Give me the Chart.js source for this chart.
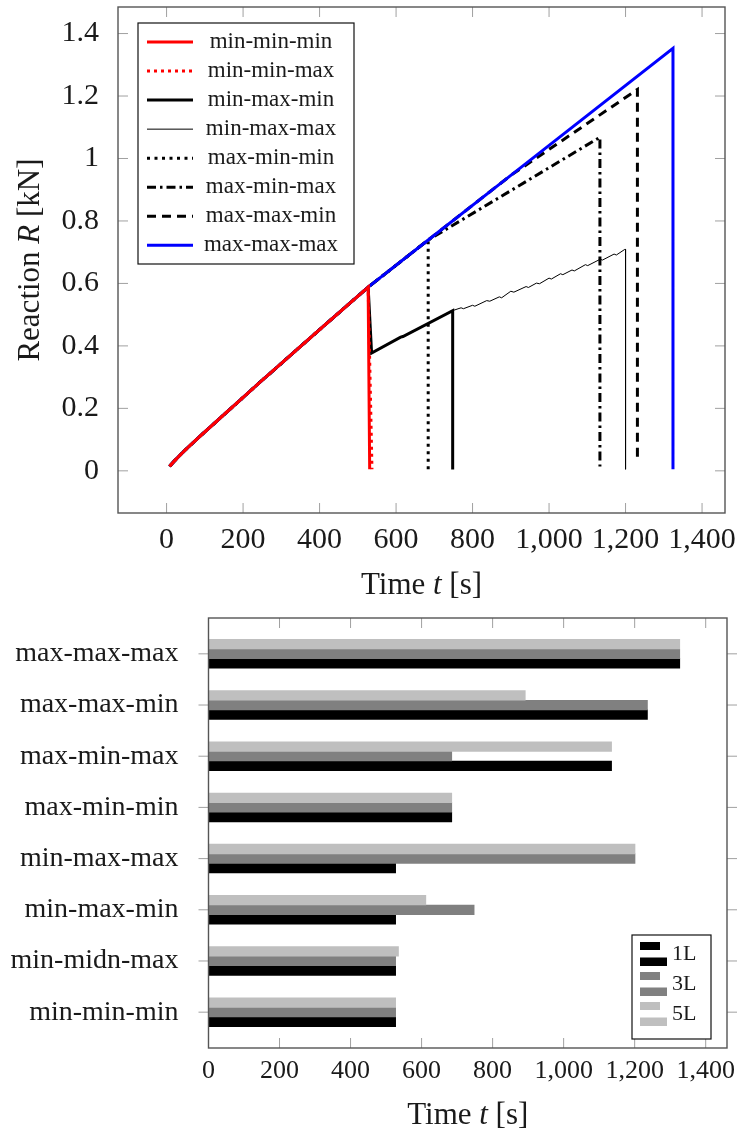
<!DOCTYPE html>
<html>
<head>
<meta charset="utf-8">
<script src="https://cdn.jsdelivr.net/npm/chart.js@4.4.1/dist/chart.umd.min.js"></script>
<style>
    html, body { margin: 0; padding: 0; background: #fff; }
    #lienzo { position: relative; width: 738px; height: 1136px; }
    #grafico-reaccion { position: absolute; left: 0; top: 0; }
    #grafico-tiempos { position: absolute; left: 0; top: 600px; }
</style>
</head>
<body>
<div id="lienzo">
    <canvas id="grafico-reaccion" width="738" height="600"></canvas>
    <canvas id="grafico-tiempos" width="738" height="536"></canvas>
</div>
<script>
const FUENTE = '"Liberation Serif", "Times New Roman", serif';
const TINTA = "#1a1a1a";

// ---- reacción R [kN] vs tiempo t [s] ----
// tramo común de subida (todas las curvas)
const rampaT = [8, 20, 35, 55, 87, 150, 250, 400, 527];
const rampaR = [0.015, 0.031, 0.050, 0.074, 0.110, 0.180, 0.290, 0.452, 0.588];

const minMinMinT = [531];
const minMinMinR = [0.005];
const minMinMaxT = [537];
const minMinMaxR = [0.005];
const minMaxMinT = [536, 612, 618, 748, 748];
const minMaxMinR = [0.377, 0.428, 0.430, 0.513, 0.004];
const minMaxMaxT = [536, 612, 618, 748, 770, 776, 800, 806, 837, 845, 870, 876, 900, 908, 940, 946, 967, 975,
    1000, 1006, 1030, 1036, 1060, 1066, 1095, 1101, 1133, 1140, 1170, 1176, 1198, 1200, 1200];
const minMaxMaxR = [0.377, 0.428, 0.430, 0.513, 0.522, 0.519, 0.530, 0.527, 0.545, 0.543, 0.557, 0.554, 0.575, 0.572, 0.590, 0.587, 0.601, 0.599,
    0.617, 0.614, 0.631, 0.628, 0.643, 0.640, 0.660, 0.657, 0.677, 0.675, 0.694, 0.691, 0.709, 0.709, 0.005];
const maxMinMinT = [684, 684];
const maxMinMinR = [0.739, 0.005];
const maxMinMaxT = [684, 900, 1133, 1133];
const maxMinMaxR = [0.739, 0.897, 1.068, 0.014];
const maxMaxMinT = [684, 900, 1231, 1231];
const maxMaxMinR = [0.739, 0.946, 1.221, 0.026];
const maxMaxMaxT = [684, 900, 1324, 1324];
const maxMaxMaxR = [0.739, 0.946, 1.353, 0.005];

const ticksTiempo = [0, 200, 400, 600, 800, 1000, 1200, 1400];
const ticksReaccion = [0, 0.2, 0.4, 0.6, 0.8, 1.0, 1.2, 1.4];

// ---- tiempo de falla por caso y número de capas ----
const casos = ["min-min-min", "min-midn-max", "min-max-min", "min-max-max", "max-min-min", "max-min-max", "max-max-min", "max-max-max"];
const tiempo1L = [527, 527, 527, 527, 685, 1135, 1236, 1327];
const tiempo3L = [527, 527, 748, 1201, 685, 685, 1236, 1327];
const tiempo5L = [527, 535, 612, 1201, 685, 1135, 892, 1327];

function serie(t, r) {
    const ts = rampaT.concat(t);
    const rs = rampaR.concat(r);
    return ts.map((x, i) => ({ x, y: rs[i] }));
}

function fuente(tam, italica) {
    return (italica ? "italic " : "") + tam + "px " + FUENTE;
}

// texto con partes en cursiva (R, t), centrado en (x, y)
function textoMixto(ctx, partes, x, y, tam, rot) {
    ctx.save();
    ctx.translate(x, y);
    if (rot) ctx.rotate(rot);
    let ancho = 0;
    partes.forEach(([txt, it]) => { ctx.font = fuente(tam, it); ancho += ctx.measureText(txt).width; });
    let pos = -ancho / 2;
    ctx.fillStyle = TINTA;
    ctx.textBaseline = "middle";
    ctx.textAlign = "left";
    partes.forEach(([txt, it]) => {
        ctx.font = fuente(tam, it);
        ctx.fillText(txt, pos, 0);
        pos += ctx.measureText(txt).width;
    });
    ctx.restore();
}

function linea(ctx, x1, y1, x2, y2) {
    ctx.beginPath();
    ctx.moveTo(x1, y1);
    ctx.lineTo(x2, y2);
    ctx.stroke();
}

// sin márgenes extra por las etiquetas: el área del gráfico queda donde la fija el layout
function sinRelleno(s) {
    s.paddingTop = 0;
    s.paddingBottom = 0;
    s.paddingLeft = 0;
    s.paddingRight = 0;
}

// marco estilo pgfplots con marcas de graduación
const marco = {
    id: "marco",
    afterDatasetsDraw(chart, args, opts) {
        const { ctx, chartArea: a, scales } = chart;
        const L = 10;
        ctx.save();
        ctx.strokeStyle = "#a0a0a0";
        ctx.lineWidth = 1;
        scales.x.ticks.forEach((t) => {
            const px = scales.x.getPixelForValue(t.value);
            linea(ctx, px, a.bottom, px, a.bottom - L);
            linea(ctx, px, a.top, px, a.top + L);
        });
        scales.y.ticks.forEach((t) => {
            const py = scales.y.getPixelForValue(t.value);
            if (opts.yFuera) {
                linea(ctx, a.left - L, py, a.left, py);
                linea(ctx, a.right, py, a.right + L, py);
            } else {
                linea(ctx, a.left, py, a.left + L, py);
                linea(ctx, a.right, py, a.right - L, py);
            }
        });
        ctx.strokeStyle = "#555";
        ctx.lineWidth = 1.4;
        ctx.strokeRect(a.left, a.top, a.right - a.left, a.bottom - a.top);
        ctx.restore();
    },
    afterDraw(chart, args, opts) {
        const { ctx, chartArea: a } = chart;
        (opts.titulos || []).forEach((tt) => {
            const x = tt.x === "centro" ? (a.left + a.right) / 2 : tt.x;
            const y = tt.y === "centro" ? (a.top + a.bottom) / 2 : tt.y;
            textoMixto(ctx, tt.partes, x, y, 31, tt.rot);
        });
    },
};

const leyendaLineas = {
    id: "leyendaLineas",
    afterDraw(chart) {
        const { ctx, chartArea: a } = chart;
        const x0 = a.left + 20, y0 = a.top + 16, w = 216, h = 241;
        ctx.save();
        ctx.fillStyle = "#fff";
        ctx.fillRect(x0, y0, w, h);
        ctx.strokeStyle = "#111";
        ctx.lineWidth = 1.2;
        ctx.strokeRect(x0, y0, w, h);
        chart.data.datasets.forEach((ds, i) => {
            const cy = y0 + 19 + i * 29.05;
            ctx.strokeStyle = ds.borderColor;
            ctx.lineWidth = ds.borderWidth;
            ctx.setLineDash(ds.borderDash || []);
            ctx.lineCap = "butt";
            linea(ctx, x0 + 9, cy, x0 + 55, cy);
            ctx.setLineDash([]);
            ctx.fillStyle = TINTA;
            ctx.font = fuente(23, false);
            ctx.textAlign = "center";
            ctx.textBaseline = "middle";
            ctx.fillText(ds.label, x0 + 133, cy);
        });
        ctx.restore();
    },
};

const leyendaBarras = {
    id: "leyendaBarras",
    afterDraw(chart) {
        const { ctx, chartArea: a } = chart;
        const x0 = a.right - 95, y0 = a.bottom - 113, w = 79, h = 104;
        ctx.save();
        ctx.fillStyle = "#fff";
        ctx.fillRect(x0, y0, w, h);
        ctx.strokeStyle = "#111";
        ctx.lineWidth = 1.2;
        ctx.strokeRect(x0, y0, w, h);
        const ds = chart.data.datasets.slice().reverse();
        ds.forEach((d, i) => {
            const yy = y0 + 7 + i * 30;
            ctx.fillStyle = d.backgroundColor;
            ctx.fillRect(x0 + 8, yy, 20, 8);
            ctx.fillRect(x0 + 8, yy + 15.5, 27, 8.5);
            ctx.fillStyle = TINTA;
            ctx.font = fuente(22, false);
            ctx.textAlign = "left";
            ctx.textBaseline = "middle";
            ctx.fillText(d.label, x0 + 40, yy + 12);
        });
        ctx.restore();
    },
};

function linDataset(label, data, color, ancho, guiones, orden) {
    return { label, data, borderColor: color, backgroundColor: color, borderWidth: ancho, borderDash: guiones, order: orden,
        pointRadius: 0, tension: 0, fill: false, borderCapStyle: "butt", borderJoinStyle: "miter" };
}

const tickFont = (tam) => ({ family: FUENTE, size: tam });

new Chart(document.getElementById("grafico-reaccion"), {
    type: "line",
    data: {
        datasets: [
            linDataset("min-min-min", serie(minMinMinT, minMinMinR), "#ff0000", 3, [], 0),
            linDataset("min-min-max", serie(minMinMaxT, minMinMaxR), "#ff0000", 3, [3, 4], 1),
            linDataset("min-max-min", serie(minMaxMinT, minMaxMinR), "#000000", 3, [], 3),
            linDataset("min-max-max", serie(minMaxMaxT, minMaxMaxR), "#000000", 1, [], 4),
            linDataset("max-min-min", serie(maxMinMinT, maxMinMinR), "#000000", 3, [3, 4.5], 5),
            linDataset("max-min-max", serie(maxMinMaxT, maxMinMaxR), "#000000", 3, [9, 4, 2.5, 4], 5),
            linDataset("max-max-min", serie(maxMaxMinT, maxMaxMinR), "#000000", 3, [9, 6], 5),
            linDataset("max-max-max", serie(maxMaxMaxT, maxMaxMaxR), "#0000ff", 3, [], 2),
        ],
    },
    options: {
        responsive: false,
        animation: false,
        layout: { padding: { top: 7, right: 13, left: 0, bottom: 0 } },
        plugins: {
            legend: { display: false },
            tooltip: { enabled: false },
            marco: {
                yFuera: false,
                titulos: [
                    { partes: [["Reaction ", false], ["R", true], [" [kN]", false]], x: 31, y: "centro", rot: -Math.PI / 2 },
                    { partes: [["Time ", false], ["t", true], [" [s]", false]], x: "centro", y: 586 },
                ],
            },
        },
        scales: {
            x: {
                type: "linear", min: -127, max: 1460,
                grid: { display: false }, border: { display: false },
                afterBuildTicks: (s) => { s.ticks = ticksTiempo.map((v) => ({ value: v })); },
                afterFit: (s) => { s.height = 87; sinRelleno(s); },
                ticks: { font: tickFont(30), color: TINTA, padding: 1, maxRotation: 0, autoSkip: false,
                    callback: (v) => Number(v).toLocaleString("en-US") },
            },
            y: {
                type: "linear", min: -0.135, max: 1.485,
                grid: { display: false }, border: { display: false },
                afterBuildTicks: (s) => { s.ticks = ticksReaccion.map((v) => ({ value: v })); },
                afterFit: (s) => { s.width = 118; sinRelleno(s); },
                ticks: { font: tickFont(30), color: TINTA, padding: 11, autoSkip: false,
                    callback: (v) => String(Math.round(v * 10) / 10) },
            },
        },
    },
    plugins: [marco, leyendaLineas],
});

const barra = (label, valores, color) => ({
    label, backgroundColor: color, borderWidth: 0, barThickness: 9.6,
    data: valores.map((v, i) => ({ x: v, y: i })),
});

new Chart(document.getElementById("grafico-tiempos"), {
    type: "bar",
    data: {
        datasets: [
            barra("5L", tiempo5L, "#bfbfbf"),
            barra("3L", tiempo3L, "#808080"),
            barra("1L", tiempo1L, "#000000"),
        ],
    },
    options: {
        indexAxis: "y",
        responsive: false,
        animation: false,
        layout: { padding: { top: 18, right: 11, left: 0, bottom: 0 } },
        plugins: {
            legend: { display: false },
            tooltip: { enabled: false },
            marco: {
                yFuera: true,
                titulos: [
                    { partes: [["Time ", false], ["t", true], [" [s]", false]], x: "centro", y: 516 },
                ],
            },
        },
        scales: {
            x: {
                type: "linear", min: 0, max: 1460, offset: false,
                grid: { display: false }, border: { display: false },
                afterBuildTicks: (s) => { s.ticks = ticksTiempo.map((v) => ({ value: v })); },
                afterFit: (s) => { s.height = 88; sinRelleno(s); },
                ticks: { font: tickFont(26), color: TINTA, padding: 0, maxRotation: 0, autoSkip: false,
                    callback: (v) => Number(v).toLocaleString("en-US") },
            },
            y: {
                type: "linear", min: -0.7, max: 7.7, offset: false,
                grid: { display: false, offset: false }, border: { display: false },
                afterBuildTicks: (s) => { s.ticks = casos.map((c, i) => ({ value: i })); },
                afterFit: (s) => { s.width = 208.5; sinRelleno(s); },
                ticks: { font: tickFont(28), color: TINTA, padding: 22, autoSkip: false,
                    callback: (v) => casos[v] },
            },
        },
    },
    plugins: [marco, leyendaBarras],
});
</script>
</body>
</html>
